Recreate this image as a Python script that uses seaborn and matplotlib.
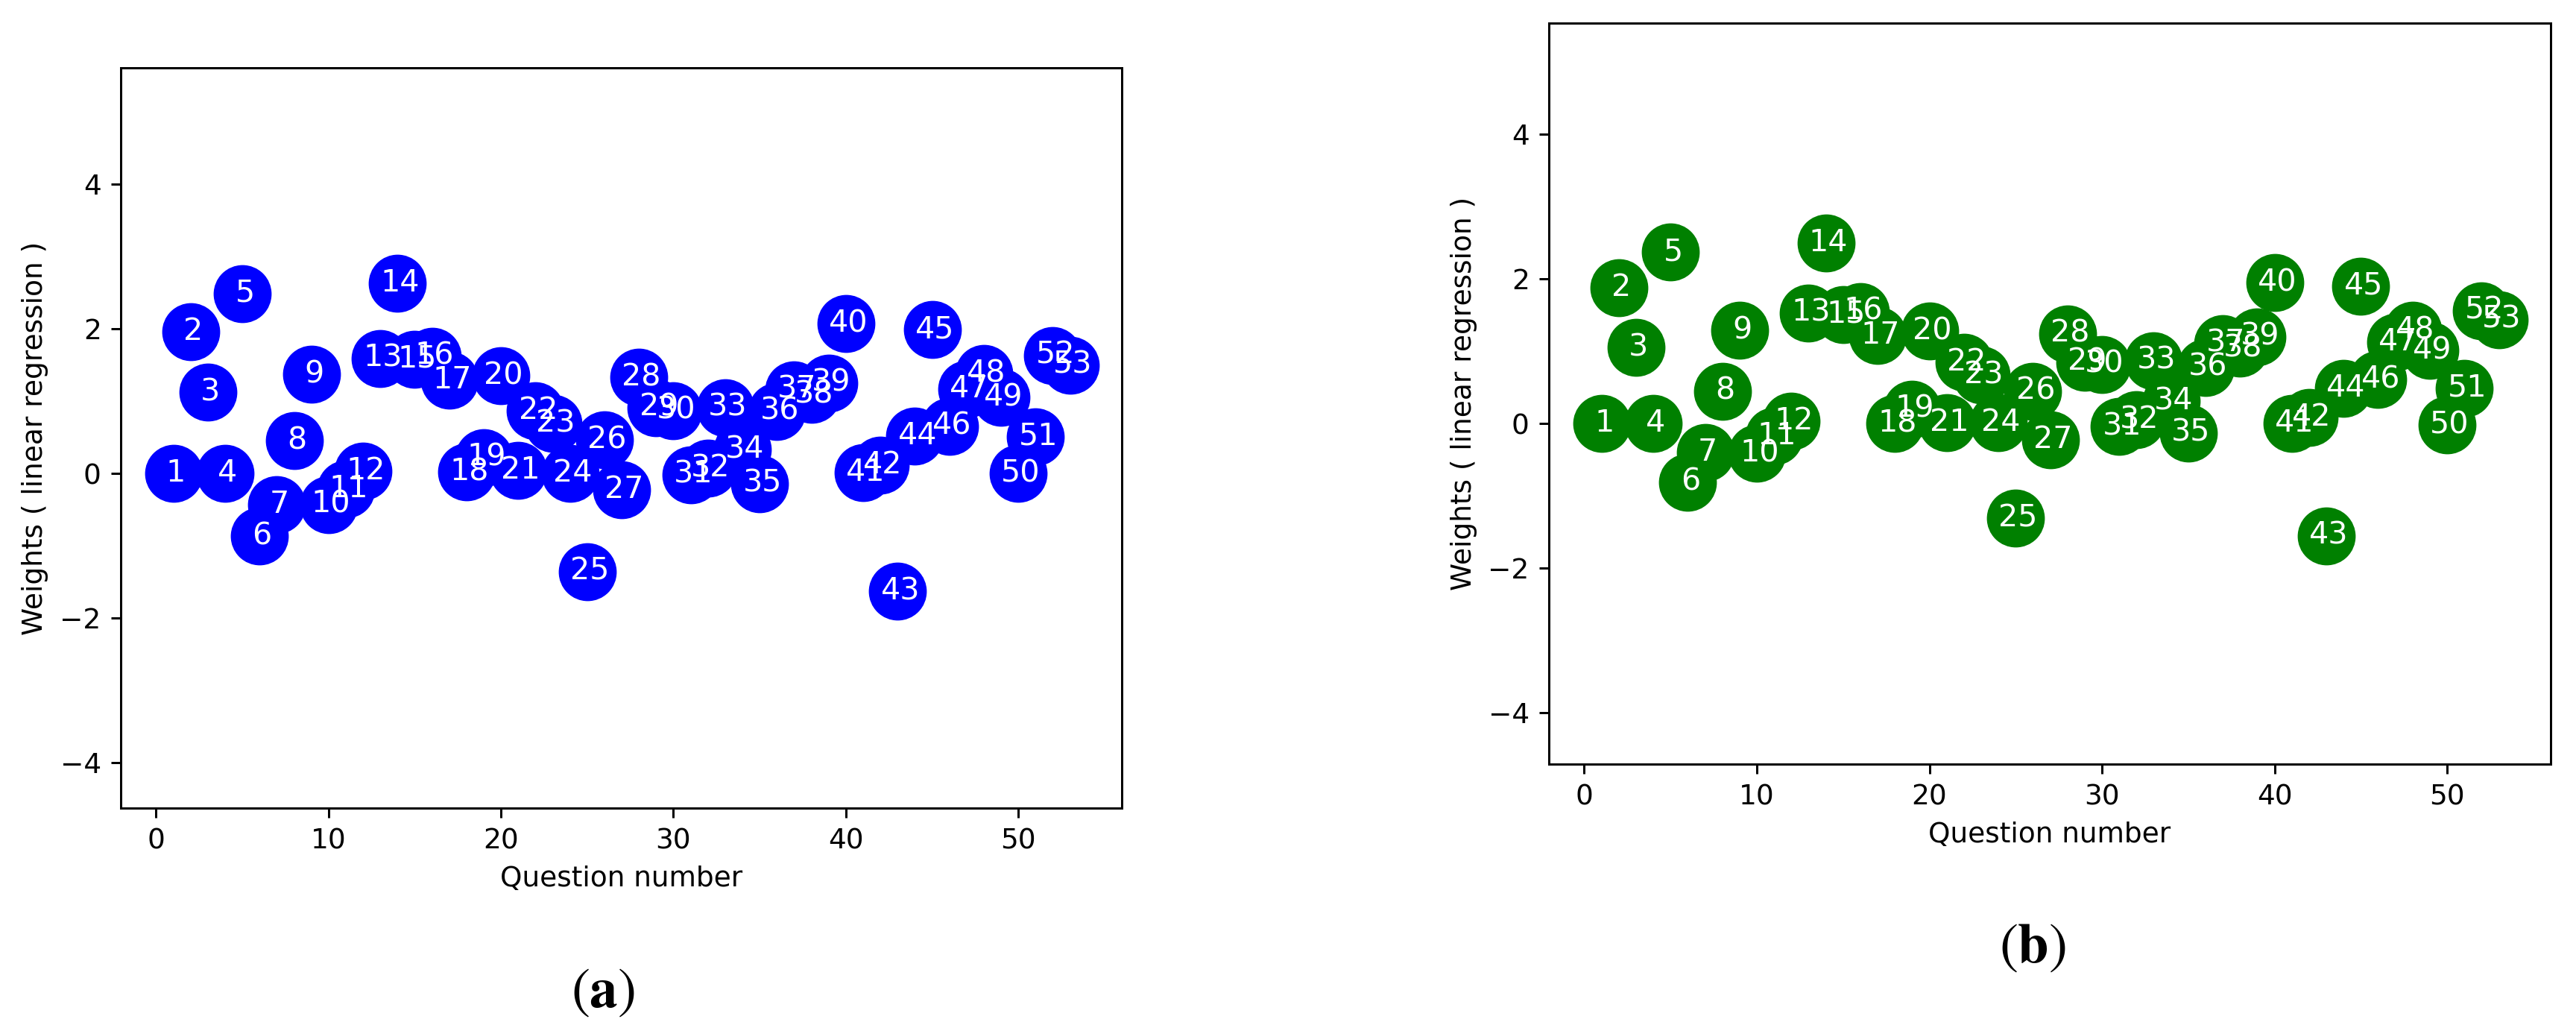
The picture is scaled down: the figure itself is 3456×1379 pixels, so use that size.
import numpy as np
import pandas as pd
import matplotlib
matplotlib.use("Agg")
import matplotlib.pyplot as plt
import seaborn as sns

questions = list(range(1, 54))

weights_a = [0.00, 1.96, 1.12, 0.00, 2.49, -0.87, -0.43, 0.45, 1.37, -0.43,
             -0.22, 0.03, 1.59, 2.63, 1.58, 1.62, 1.29, 0.02, 0.22, 1.35,
             0.04, 0.87, 0.69, 0.00, -1.36, 0.46, -0.23, 1.33, 0.91, 0.87,
             -0.02, 0.07, 0.91, 0.33, -0.14, 0.86, 1.16, 1.09, 1.25, 2.07,
             0.01, 0.11, -1.63, 0.52, 1.99, 0.65, 1.17, 1.38, 1.05, 0.00,
             0.51, 1.63, 1.50]

weights_b = [0.00, 1.88, 1.05, 0.00, 2.37, -0.81, -0.40, 0.45, 1.29, -0.41,
             -0.17, 0.03, 1.53, 2.50, 1.51, 1.55, 1.22, 0.00, 0.20, 1.28,
             0.01, 0.85, 0.67, 0.01, -1.31, 0.45, -0.22, 1.24, 0.85, 0.82,
             -0.04, 0.05, 0.87, 0.31, -0.13, 0.78, 1.11, 1.04, 1.20, 1.95,
             0.00, 0.09, -1.55, 0.49, 1.90, 0.61, 1.13, 1.29, 1.01, -0.02,
             0.49, 1.56, 1.44]

colors = ["blue", "green"]
panel_labels = [r"$(\mathbf{a})$", r"$(\mathbf{b})$"]
xlabel = "Question number"
ylabel = "Weights ( linear regression )"
xticks = [0, 10, 20, 30, 40, 50]
yticks = [-4, -2, 0, 2, 4]

plt.rcParams["mathtext.fontset"] = "stix"

fig = plt.figure(figsize=(3456 / 270, 1379 / 270), dpi=270)
axes_pos = [[162 / 3456, (1379 - 1084) / 1379, 1343 / 3456, 993 / 1379],
            [2078 / 3456, (1379 - 1025) / 1379, 1344 / 3456, 994 / 1379]]
ylims = [(-4.63, 5.61), (-4.71, 5.54)]
caption_pos = [(809 / 3456, 1 - 1330 / 1379), (2727 / 3456, 1 - 1270 / 1379)]

for i, w in enumerate([weights_a, weights_b]):
    df = pd.DataFrame({"q": questions, "w": w})
    ax = fig.add_axes(axes_pos[i])
    sns.scatterplot(data=df, x="q", y="w", color=colors[i], s=430,
                    linewidth=0, ax=ax, zorder=2)
    for q, v in zip(questions, w):
        ax.text(q + 0.15, v, str(q), color="white", ha="center", va="center",
                fontsize=11, zorder=3)
    ax.set_xlim(-2.05, 56.0)
    ax.set_ylim(*ylims[i])
    ax.set_xticks(xticks)
    ax.set_yticks(yticks)
    ax.set_xlabel(xlabel)
    ax.set_ylabel(ylabel)
    fig.text(caption_pos[i][0], caption_pos[i][1], panel_labels[i],
             ha="center", va="center", fontsize=20)

fig.savefig("out.png", dpi=270, facecolor="white")
